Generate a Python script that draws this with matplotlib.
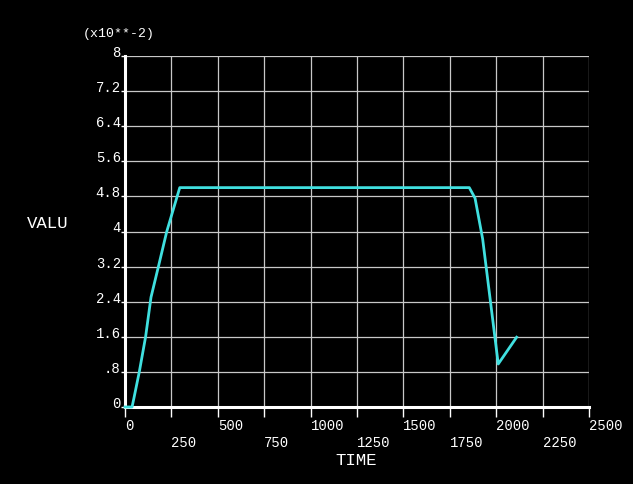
import numpy as np
import matplotlib
matplotlib.use("Agg")
import matplotlib.pyplot as plt

# ---- data (values in units of 1e-2) ----
time = [0, 38, 48, 77, 111, 140, 180, 225, 295, 1855, 1886, 1927, 2011, 2110]
valu = [0, 0, 0.2, 0.8, 1.6, 2.5, 3.2, 4.0, 5.0, 5.0, 4.76, 3.83, 0.98, 1.59]

x_ticks = [0, 250, 500, 750, 1000, 1250, 1500, 1750, 2000, 2250, 2500]
y_ticks = [0, 0.8, 1.6, 2.4, 3.2, 4.0, 4.8, 5.6, 6.4, 7.2, 8.0]
y_labels = ["0", ".8", "1.6", "2.4", "3.2", "4", "4.8", "5.6", "6.4", "7.2", "8"]

font = "Liberation Mono"
fg = "white"
grid_col = "#c8c8c8"
line_col = "#40e0e0"

fig = plt.figure(figsize=(6.33, 4.85), dpi=100, facecolor="black")
ax = fig.add_axes([125 / 633, 1 - 408 / 485, (589 - 125) / 633, (408 - 57) / 485])
ax.set_facecolor("black")

ax.plot(time, valu, color=line_col, lw=2.0, solid_joinstyle="round",
        zorder=5, clip_on=False)

ax.set_xlim(0, 2500)
ax.set_ylim(0, 8)

# grid
for xv in x_ticks[1:]:
    ax.axvline(xv, color=grid_col, lw=0.9, zorder=0)
for yv in y_ticks[1:]:
    ax.axhline(yv, color=grid_col, lw=0.9, zorder=0)

for s in ["top", "right"]:
    ax.spines[s].set_visible(False)
for s in ["left", "bottom"]:
    ax.spines[s].set_color(fg)
    ax.spines[s].set_linewidth(2.2)

ax.set_xticks(x_ticks)
ax.set_xticklabels([])
ax.set_yticks(y_ticks)
ax.set_yticklabels([])
ax.tick_params(axis="x", direction="out", length=7, width=1, color=fg)
ax.tick_params(axis="y", direction="out", length=3, width=1, color=fg)

# x tick labels, left aligned at tick, two staggered rows
for i, xv in enumerate(x_ticks):
    row = 0 if i % 2 == 0 else 1
    ax.annotate(str(xv), xy=(xv, 0), xycoords="data",
                xytext=(0, -15.8 - row * 12.3), textcoords="offset points",
                ha="left", va="baseline", color=fg, fontsize=10, family=font)

# y tick labels, right aligned, sitting on the grid line
for yv, lab in zip(y_ticks, y_labels):
    ax.annotate(lab, xy=(0, yv), xycoords="data",
                xytext=(-3, 0), textcoords="offset points",
                ha="right", va="baseline", color=fg, fontsize=10, family=font)

fig.text(27 / 633, 1 - 224 / 485, "VALU", color=fg, fontsize=12.5, family=font,
         ha="left", va="center")
fig.text(356 / 633, 1 - 461 / 485, "TIME", color=fg, fontsize=12.5, family=font,
         ha="center", va="center")
fig.text(83 / 633, 1 - 34 / 485, "(x10**-2)", color=fg, fontsize=9.5, family=font,
         ha="left", va="center")

fig.savefig("out.png", dpi=100, facecolor="black")
